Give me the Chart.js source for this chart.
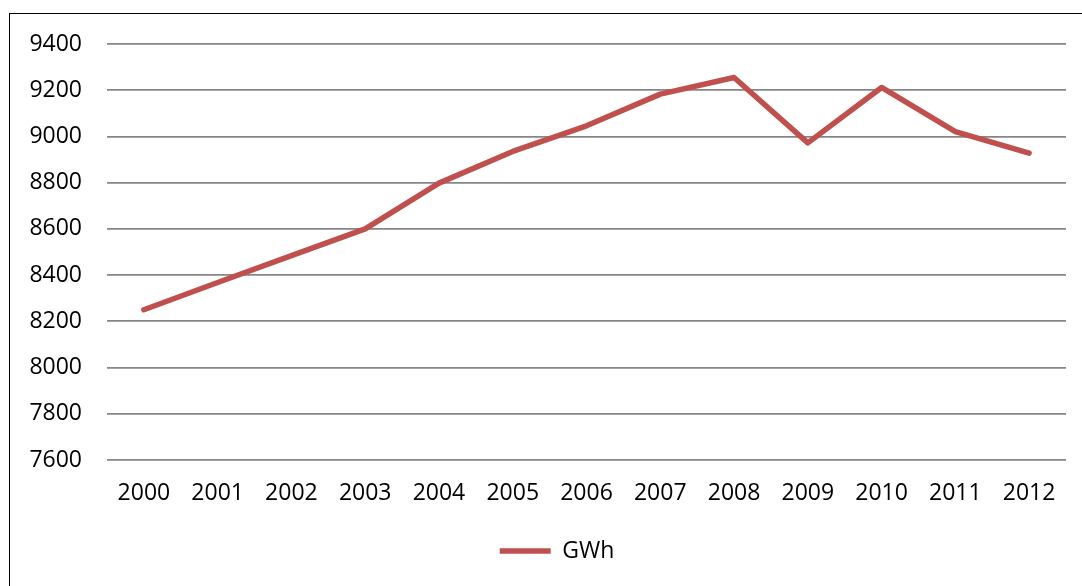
<!DOCTYPE html>
<html>
<head>
<meta charset="utf-8">
<script src="https://cdn.jsdelivr.net/npm/chart.js@4/dist/chart.umd.min.js"></script>
<style>
  html, body { margin: 0; padding: 0; background: #fff; overflow: hidden; }
  #frame { position: absolute; left: 9px; top: 13px; width: 1200px; height: 700px;
           border-left: 1px solid #000; border-top: 1px solid #000; }
  #wrap { position: absolute; left: 0; top: 0; width: 1082px; height: 586px; }
</style>
</head>
<body>
<div id="frame"></div>
<div id="wrap"><canvas id="c" width="1082" height="586"></canvas></div>
<script>
// Annual electricity consumption, GWh
const years = ['2000','2001','2002','2003','2004','2005','2006','2007','2008','2009','2010','2011','2012'];
const gwh = [8250, 8368, 8484, 8600, 8798, 8935, 9046, 9183, 9255, 8972, 9212, 9021, 8928];
const yTicks = [7600, 7800, 8000, 8200, 8400, 8600, 8800, 9000, 9200, 9400];

const FONT = { family: '"Open Sans", sans-serif', size: 23 };
const RED = '#C0504D';

// Nudge the bottom legend a little right of the canvas centre
const legendShift = {
  id: 'legendShift',
  afterLayout(chart) {
    const lg = chart.legend;
    if (lg) { lg.left += 24; lg.right += 24; }
  }
};

new Chart(document.getElementById('c'), {
  type: 'line',
  data: {
    labels: years,
    datasets: [{
      label: 'GWh',
      data: gwh,
      borderColor: RED,
      backgroundColor: RED,
      borderWidth: 5.5,
      borderCapStyle: 'round',
      borderJoinStyle: 'round',
      pointRadius: 0,
      pointHoverRadius: 0,
      tension: 0,
      fill: false
    }]
  },
  plugins: [legendShift],
  options: {
    responsive: false,
    animation: false,
    layout: { padding: { left: 0, right: 16, top: 44, bottom: 13.5 } },
    plugins: {
      tooltip: { enabled: false },
      legend: {
        position: 'bottom',
        labels: {
          usePointStyle: true,
          pointStyle: 'line',
          pointStyleWidth: 51,
          color: '#000',
          font: FONT,
          padding: 10
        }
      }
    },
    scales: {
      x: {
        offset: true,
        grid: { display: false, drawTicks: false, offset: true },
        border: { display: false },
        ticks: { color: '#000', font: FONT, padding: 20, maxRotation: 0, autoSkip: false },
        afterFit: (s) => { s.height = 69.5; }
      },
      y: {
        min: yTicks[0],
        max: yTicks[yTicks.length - 1],
        grid: { color: '#868686', lineWidth: 1.8, drawTicks: false },
        border: { display: false },
        afterBuildTicks: (s) => { s.ticks = yTicks.map(v => ({ value: v })); },
        ticks: { color: '#000', font: FONT, padding: 25, callback: (v) => String(v) },
        afterFit: (s) => { s.width = 107; }
      }
    }
  }
});
</script>
</body>
</html>
